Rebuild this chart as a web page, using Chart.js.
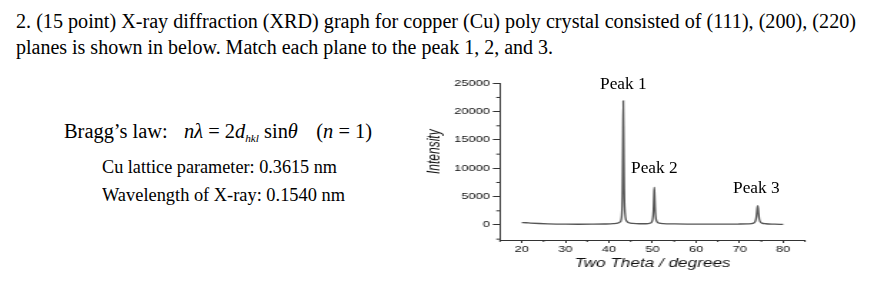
<!DOCTYPE html>
<html>
<head>
<meta charset="utf-8">
<script src="https://cdn.jsdelivr.net/npm/chart.js@4/dist/chart.umd.min.js"></script>
<style>
  html, body { margin: 0; padding: 0; background: #fff; }
  body { width: 869px; height: 282px; position: relative; overflow: hidden; }
  .t { position: absolute; white-space: nowrap; font-family: "Liberation Serif", "Times New Roman", serif;
       line-height: 1; color: #000; transform-origin: 0 0; }
  .t i { font-style: italic; }
  .sub { font-size: 0.55em; position: relative; top: 0.35em; font-style: italic; }
  .sp { display: inline-block; }
  #wrap { position: absolute; left: 418px; top: 70px; width: 280px; height: 212px;
          transform: scaleX(1.43); transform-origin: 0 0; }
</style>
</head>
<body>
<div id="wrap"><canvas id="c" width="280" height="212"></canvas></div>
<script>
// ---- data ----
const twoTheta = [20, 21, 22, 24, 26, 28, 30, 33, 36, 39, 41, 42, 42.5, 42.8, 43.0, 43.1, 43.2, 43.3, 43.4, 43.5, 43.6, 43.8, 44.1, 44.6, 45.5, 47, 48.5, 49.4, 49.8, 50.0, 50.15, 50.25, 50.35, 50.42, 50.5, 50.6, 50.7, 50.85, 51.1, 51.6, 52.5, 55, 58, 62, 66, 70, 72, 73.2, 73.6, 73.8, 73.95, 74.05, 74.15, 74.25, 74.35, 74.5, 74.7, 75.1, 76, 78, 80];
const intensity = [420, 390, 340, 260, 200, 160, 140, 130, 140, 170, 230, 330, 500, 900, 2600, 6000, 14000, 21900, 14500, 6500, 3200, 1300, 650, 400, 280, 220, 220, 300, 500, 900, 1800, 3300, 5600, 6650, 5200, 3000, 1700, 900, 500, 320, 240, 190, 160, 150, 150, 170, 200, 330, 650, 1200, 2200, 3000, 3400, 2900, 2000, 1100, 600, 330, 220, 150, 100];
const xMajorTicks = [20, 30, 40, 50, 60, 70, 80];
const xMinorTicks = [15, 25, 35, 45, 55, 65, 75, 85];
const yMajorTicks = [0, 5000, 10000, 15000, 20000, 25000];
const yMinorTicks = [-2500, 2500, 7500, 12500, 17500, 22500];
const xTitle = 'Two Theta / degrees';
const yTitle = 'Intensity';
const peakLabels = ['Peak 1', 'Peak 2', 'Peak 3'];

// ---- texts ----
function place(html, x, baseline, fs, targetW) {
  const d = document.createElement('div');
  d.className = 't';
  d.style.fontSize = fs + 'px';
  d.style.left = x + 'px';
  d.style.top = (baseline - 0.8375 * fs) + 'px';
  d.innerHTML = html;
  document.body.appendChild(d);
  const w = d.getBoundingClientRect().width;
  if (targetW && w > 0) d.style.transform = 'scaleX(' + (targetW / w) + ')';
  return d;
}
place('2. (15 point) X-ray diffraction (XRD) graph for copper (Cu) poly crystal consisted of (111), (200), (220)', 16, 27.3, 20, 840);
place('planes is shown in below. Match each plane to the peak 1, 2, and 3.', 16, 53.3, 20, 537);
place('Bragg’s law:<span class="sp" style="width:16px"></span><i>n</i><i>λ</i> = 2<i>d</i><span class="sub">hkl</span> sin<i>θ</i><span class="sp" style="width:18px"></span>(<i>n</i> = 1)', 64, 138, 20, 308);
place('Cu lattice parameter: 0.3615 nm', 102, 173.3, 19, 235);
place('Wavelength of X-ray: 0.1540 nm', 102, 200.7, 19, 243);
place(peakLabels[0], 600, 90, 17.5, 46.7);
place(peakLabels[1], 630.7, 174, 17.5, 46.7);
place(peakLabels[2], 732.7, 193.3, 17.5, 46.7);

// ---- chart ----
const axisColor = '#333';
const minorTicks = {
  id: 'minorTicks',
  afterDraw(chart) {
    const ctx = chart.ctx, xs = chart.scales.x, ys = chart.scales.y;
    ctx.save();
    ctx.strokeStyle = axisColor;
    ctx.lineWidth = 1;
    const ax = ys.right, ay = xs.top;
    ctx.beginPath();
    yMinorTicks.forEach(v => { const py = ys.getPixelForValue(v); ctx.moveTo(ax - 2.6, py); ctx.lineTo(ax, py); });
    xMinorTicks.forEach(v => { const px = xs.getPixelForValue(v); ctx.moveTo(px, ay); ctx.lineTo(px, ay + 2); });
    ctx.stroke();
    ctx.restore();
  }
};

new Chart(document.getElementById('c'), {
  type: 'line',
  data: {
    datasets: [{
      data: twoTheta.map((x, i) => ({ x: x, y: intensity[i] })),
      borderColor: '#555',
      borderWidth: 1.3,
      pointRadius: 0,
      fill: false,
      cubicInterpolationMode: 'monotone'
    }]
  },
  options: {
    responsive: false,
    animation: false,
    devicePixelRatio: 1,
    layout: { padding: { top: 13.3, right: 9.4, left: 0, bottom: 0 } },
    plugins: { legend: { display: false }, tooltip: { enabled: false } },
    scales: {
      x: {
        type: 'linear', min: 15, max: 85,
        ticks: { stepSize: 10, padding: 1, color: '#111', font: { family: 'Liberation Sans, Arial', size: 9 },
                 callback: v => String(v), maxRotation: 0 },
        afterBuildTicks: s => { s.ticks = xMajorTicks.map(v => ({ value: v })); },
        grid: { drawOnChartArea: false, drawTicks: true, tickLength: 3, color: axisColor },
        border: { display: true, color: axisColor, width: 1 },
        title: { display: true, text: xTitle, color: '#111', padding: { top: 0, bottom: 10.8 },
                 font: { family: 'Liberation Sans, Arial', size: 12, style: 'italic' } },
        afterFit: s => { s.height = 42; }
      },
      y: {
        type: 'linear', min: -2650, max: 25000,
        ticks: { stepSize: 5000, padding: 2, color: '#111', font: { family: 'Liberation Sans, Arial', size: 9 },
                 callback: v => String(v) },
        afterBuildTicks: s => { s.ticks = yMajorTicks.map(v => ({ value: v })); },
        grid: { drawOnChartArea: false, drawTicks: true, tickLength: 5, color: axisColor },
        border: { display: true, color: axisColor, width: 1 },
        title: { display: true, text: '\u00a0\u00a0\u00a0\u00a0\u00a0\u00a0' + yTitle, color: '#111', padding: { top: 4.7, bottom: 0 },
                 font: { family: 'Liberation Sans, Arial', size: 12, style: 'italic' } },
        afterFit: s => { s.width = 57.34; }
      }
    }
  },
  plugins: [minorTicks]
});
</script>
</body>
</html>
